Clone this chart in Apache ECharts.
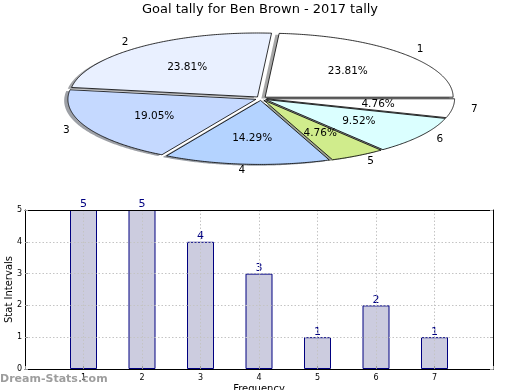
<!DOCTYPE html>
<html><head><meta charset="utf-8">
<script src="https://cdn.jsdelivr.net/npm/echarts@6/dist/echarts.min.js"></script>
<style>html,body{margin:0;padding:0;background:#fff}#c{width:520px;height:390px}</style>
</head><body><div id="c"></div>
<script>
// ---- data ----
const categories = ['1', '2', '3', '4', '5', '6', '7'];
const tallies = [5, 5, 4, 3, 1, 2, 1];
const xTickValues = [1, 2, 3, 4, 5, 6, 7];
const yTickValues = [0, 1, 2, 3, 4, 5];
const sliceColors = ['#ffffff', '#e9f0ff', '#c5d9ff', '#b4d3ff', '#d0ec8c', '#dbffff', '#ffffff'];

const FONT = 'DejaVu Sans';
const total = tallies.reduce((a, b) => a + b, 0);
const cum = [0];
tallies.forEach((v, i) => cum.push(cum[i] + v));

// pie drawn as flattened (elliptical) wedges
const PIE = { cx: 261, cy: 98.5, rx: 188, ry: 64, explode: 0.03 };
function geom(i) {
  const t1 = cum[i] / total * 2 * Math.PI, t2 = cum[i + 1] / total * 2 * Math.PI, tm = (t1 + t2) / 2;
  return { t1, t2, tm, ox: PIE.explode * Math.cos(tm), oy: PIE.explode * Math.sin(tm) };
}
function pt(u, v) { return [PIE.cx + u * PIE.rx, PIE.cy - v * PIE.ry]; }
function wedgePoints(i, dx, dy) {
  const g = geom(i);
  const pts = [pt(g.ox + dx, g.oy + dy)];
  const n = Math.max(8, Math.ceil((g.t2 - g.t1) / 0.01));
  for (let k = 0; k <= n; k++) {
    const t = g.t1 + (g.t2 - g.t1) * k / n;
    pts.push(pt(g.ox + dx + Math.cos(t), g.oy + dy + Math.sin(t)));
  }
  return pts;
}
function shadowColor(hex) {
  const r = parseInt(hex.slice(1, 3), 16), g = parseInt(hex.slice(3, 5), 16), b = parseInt(hex.slice(5, 7), 16);
  return 'rgb(' + Math.round(r * 0.3) + ',' + Math.round(g * 0.3) + ',' + Math.round(b * 0.3) + ')';
}
const pieData = tallies.map((v, i) => [i, v]);

const chart = echarts.init(document.getElementById('c'));
chart.setOption({
  animation: false,
  backgroundColor: '#ffffff',
  title: {
    text: 'Goal tally for Ben Brown - 2017 tally',
    left: 'center', top: 3, padding: 0,
    textStyle: { fontFamily: FONT, fontSize: 13, fontWeight: 'normal', color: '#000' }
  },
  grid: { left: 25, top: 210, width: 468, height: 159, containLabel: false, outerBoundsMode: 'none' },
  xAxis: [{
    type: 'value', min: 0, max: 8, interval: 1, z: 5,
    name: 'Frequency', nameLocation: 'middle', nameGap: 15, nameMoveOverlap: false,
    nameTextStyle: { fontFamily: FONT, fontSize: 10, color: '#000' },
    axisLine: { show: true, onZero: false, lineStyle: { color: '#000', width: 1 } },
    axisTick: { show: true, inside: true, length: 3, lineStyle: { color: '#999' } },
    axisLabel: {
      fontFamily: FONT, fontSize: 8, color: '#000', margin: 5,
      formatter: v => (xTickValues.indexOf(v) >= 0 ? categories[xTickValues.indexOf(v)] : '')
    },
    splitLine: { show: true, showMinLine: false, showMaxLine: false, lineStyle: { color: '#c4c4c4', type: [1.5, 2], width: 1 } }
  }, {
    type: 'value', position: 'top', min: 0, max: 8, interval: 1, z: 5,
    axisLine: { show: true, onZero: false, lineStyle: { color: '#000', width: 1 } },
    axisTick: { show: false }, axisLabel: { show: false }, splitLine: { show: false }
  }],
  yAxis: [{
    type: 'value', min: 0, max: 5, interval: 1, z: 5,
    name: 'Stat Intervals', nameLocation: 'middle', nameGap: 11, nameMoveOverlap: false,
    nameTextStyle: { fontFamily: FONT, fontSize: 10, color: '#000' },
    axisLine: { show: true, onZero: false, lineStyle: { color: '#000', width: 1 } },
    axisTick: { show: true, inside: true, length: 3, lineStyle: { color: '#999' } },
    axisLabel: { fontFamily: FONT, fontSize: 8, color: '#000', margin: 3,
      formatter: v => (yTickValues.indexOf(v) >= 0 ? String(v) : '') },
    splitLine: { show: true, showMinLine: false, showMaxLine: false, lineStyle: { color: '#c4c4c4', type: [1.5, 2], width: 1 } }
  }, {
    type: 'value', position: 'right', min: 0, max: 5, interval: 1, z: 5,
    axisLine: { show: true, onZero: false, lineStyle: { color: '#000', width: 1 } },
    axisTick: { show: true, inside: true, length: 3, lineStyle: { color: '#aaa' } },
    axisLabel: { show: false }, splitLine: { show: false }
  }],
  graphic: [{
    type: 'text', left: 0, top: 374, z: 100,
    style: { text: 'Dream-Stats.com', fill: 'rgba(140,140,140,0.85)', font: 'bold 11px "DejaVu Sans"' }
  }],
  series: [
    {
      type: 'bar', xAxisIndex: 0, yAxisIndex: 0, barWidth: 27,
      data: xTickValues.map((x, i) => [x, tallies[i]]),
      itemStyle: { color: '#ccccdf', borderColor: '#000080', borderWidth: 1 },
      label: { show: true, position: 'top', distance: 0, color: '#000080', fontFamily: FONT, fontSize: 11,
        formatter: p => String(p.value[1]) }
    },
    {
      type: 'custom', coordinateSystem: 'none', z: 1, silent: true, data: pieData,
      renderItem: (params) => ({
        type: 'polygon',
        shape: { points: wedgePoints(params.dataIndex, -0.02, -0.02) },
        style: { fill: shadowColor(sliceColors[params.dataIndex]), opacity: 0.5 }
      })
    },
    {
      type: 'custom', coordinateSystem: 'none', z: 2, silent: true, data: pieData,
      renderItem: (params) => ({
        type: 'polygon',
        shape: { points: wedgePoints(params.dataIndex, 0, 0) },
        style: { fill: sliceColors[params.dataIndex], stroke: '#000', lineWidth: 0.8 }
      })
    },
    {
      type: 'custom', coordinateSystem: 'none', z: 3, silent: true, data: pieData,
      renderItem: (params, api) => {
        const i = params.dataIndex;
        const g = geom(i);
        const lp = pt(g.ox + 1.1 * Math.cos(g.tm), g.oy + 1.1 * Math.sin(g.tm));
        const pp = pt(g.ox + 0.6 * Math.cos(g.tm), g.oy + 0.6 * Math.sin(g.tm));
        const pct = (api.value(1) / total * 100).toFixed(2) + '%';
        return {
          type: 'group',
          children: [
            { type: 'text', style: { text: categories[i], x: lp[0], y: lp[1],
                align: lp[0] > PIE.cx ? 'left' : 'right', verticalAlign: 'middle',
                fill: '#000', fontFamily: FONT, fontSize: 10.5 } },
            { type: 'text', style: { text: pct, x: pp[0], y: pp[1],
                align: 'center', verticalAlign: 'middle',
                fill: '#000', fontFamily: FONT, fontSize: 10.5 } }
          ]
        };
      }
    }
  ]
});
</script>
</body></html>
